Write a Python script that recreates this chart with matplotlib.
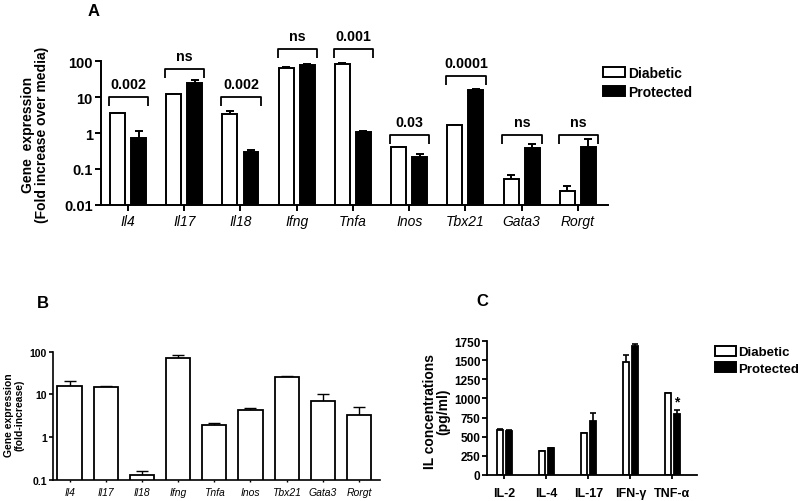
import numpy as np
import matplotlib
matplotlib.use("Agg")
import matplotlib.pyplot as plt
from matplotlib.patches import Patch

plt.rcParams['font.family'] = ['Liberation Sans', 'DejaVu Sans']

# ---------------- data ----------------
genes = ['Il4', 'Il17', 'Il18', 'Ifng', 'Tnfa', 'Inos', 'Tbx21', 'Gata3', 'Rorgt']

a_diabetic = [3.6, 12.2, 3.3, 63, 82, 0.41, 1.67, 0.053, 0.0235]
a_diabetic_err = [0.0, 0.0, 0.8, 7, 5, 0.01, 0.03, 0.014, 0.009]
a_protected = [0.72, 25.5, 0.30, 80, 1.05, 0.21, 16.2, 0.38, 0.41]
a_protected_err = [0.42, 5.5, 0.035, 3, 0.1, 0.05, 0.3, 0.11, 0.28]
a_pvalues = ['0.002', 'ns', '0.002', 'ns', '0.001', '0.03', '0.0001', 'ns', 'ns']
a_bracket_level = [9.9, 62, 9.9, 226, 226, 0.9, 40, 0.9, 0.9]
a_yticks = [0.01, 0.1, 1, 10, 100]
a_yticklabels = ['0.01', '0.1', '1', '10', '100']

b_values = [16, 14.6, 0.131, 72, 1.88, 4.3, 25, 7.0, 3.3]
b_err = [5, 1.1, 0.032, 10, 0.29, 0.4, 1.9, 3.2, 1.8]
b_yticks = [0.1, 1, 10, 100]
b_yticklabels = ['0.1', '1', '10', '100']

cytokines = ['IL-2', 'IL-4', 'IL-17', 'IFN-γ', 'TNF-α']
c_diabetic = [585, 315, 545, 1475, 1075]
c_diabetic_err = [10, 0, 0, 100, 0]
c_protected = [575, 355, 710, 1685, 800]
c_protected_err = [15, 0, 100, 35, 50]
c_yticks = [0, 250, 500, 750, 1000, 1250, 1500, 1750]

series_names = ['Diabetic', 'Protected']


def up_errorbar(ax, x, y, err, capsize, lw):
    eb = ax.errorbar(x, y, yerr=[np.zeros(len(err)), err], fmt='none',
                     ecolor='black', elinewidth=lw, capsize=capsize,
                     capthick=lw, zorder=1)
    eb[1][0].set_visible(False)
    return eb


def style_axes(ax, lw):
    for s in ['top', 'right']:
        ax.spines[s].set_visible(False)
    for s in ['left', 'bottom']:
        ax.spines[s].set_linewidth(lw)


fig = plt.figure(figsize=(8, 5.02), dpi=100)

# ---------------- Panel A ----------------
axA = fig.add_axes([0.12625, 0.5902, 0.634, 0.2857])
x = np.arange(len(genes))
off, w = 0.187, 0.265
axA.bar(x - off, a_diabetic, w, color='white', edgecolor='black', linewidth=1.4, zorder=2)
axA.bar(x + off, a_protected, w, color='black', edgecolor='black', linewidth=1.4, zorder=2)
up_errorbar(axA, x - off, a_diabetic, a_diabetic_err, 3, 1.4)
up_errorbar(axA, x + off, a_protected, a_protected_err, 3, 1.4)
axA.set_yscale('log')
axA.set_ylim(0.01, 100)
axA.set_xlim(-0.48, 8.54)
axA.set_yticks(a_yticks)
axA.set_yticklabels(a_yticklabels)
axA.minorticks_off()
axA.set_xticks(x)
axA.set_xticklabels(genes, fontsize=10, fontstyle='italic')
for t in axA.get_yticklabels():
    t.set_fontweight('bold')
    t.set_fontsize(10.5)
axA.tick_params(axis='y', length=4, width=1.4, pad=2)
axA.tick_params(axis='x', length=4, width=1.4, pad=3)
style_axes(axA, 1.4)

leg_factor = 10 ** (-9 / 35.8)
for i, (lvl, p) in enumerate(zip(a_bracket_level, a_pvalues)):
    x0, x1 = i - 0.34, i + 0.36
    axA.plot([x0, x0, x1, x1], [lvl * leg_factor, lvl, lvl, lvl * leg_factor],
             color='black', lw=1.3, clip_on=False, solid_capstyle='butt')
    axA.annotate(p, xy=(i + 0.01, lvl), xytext=(0, 9), textcoords='offset pixels',
                 ha='center', va='baseline', fontsize=10.3, fontweight='bold',
                 annotation_clip=False)

fig.text(0.044, 1 - 134.5 / 502, 'Gene  expression\n(Fold increase over media)',
         rotation=90, ha='center', va='center', fontsize=10, fontweight='bold',
         linespacing=1.0, multialignment='center')
fig.text(94 / 800, 1 - 11 / 502, 'A', ha='center', va='center', fontsize=12, fontweight='bold')

handles = [Patch(facecolor='white', edgecolor='black', linewidth=1.4),
           Patch(facecolor='black', edgecolor='black', linewidth=1.4)]
fig.legend(handles, series_names, loc='upper left', bbox_to_anchor=(603 / 800, 1 - 67 / 502),
           frameon=False, borderpad=0, borderaxespad=0, handlelength=1.6,
           handleheight=0.8, labelspacing=0.35, handletextpad=0.2,
           prop={'size': 10, 'weight': 'bold'})

# ---------------- Panel B ----------------
axB = fig.add_axes([0.0666, 0.0418, 0.408, 0.256])
xb = np.arange(len(genes))
axB.bar(xb, b_values, 0.67, color='white', edgecolor='black', linewidth=1.3, zorder=2)
up_errorbar(axB, xb, b_values, b_err, 4.5, 1.0)
axB.set_yscale('log')
axB.set_ylim(0.1, 100)
axB.set_xlim(-0.45, 8.57)
axB.set_yticks(b_yticks)
axB.set_yticklabels(b_yticklabels)
axB.minorticks_off()
axB.set_xticks(xb)
axB.set_xticklabels(genes, fontsize=7.5, fontstyle='italic')
for t in axB.get_yticklabels():
    t.set_fontweight('bold')
    t.set_fontsize(7.5)
axB.tick_params(axis='y', length=3, width=1.2, pad=1.5)
axB.tick_params(axis='x', length=1.5, width=1.0, pad=3.5)
style_axes(axB, 1.2)
fig.text(14.5 / 800, 1 - 415 / 502, 'Gene expression\n(fold-increase)',
         rotation=90, ha='center', va='center', fontsize=7.5, fontweight='bold',
         linespacing=1.05, multialignment='center')
fig.text(43 / 800, 1 - 304 / 502, 'B', ha='center', va='center', fontsize=12, fontweight='bold')

# ---------------- Panel C ----------------
axC = fig.add_axes([0.609, 0.0524, 0.262, 0.2657])
xc = np.arange(len(cytokines))
offc, wc = 0.107, 0.16
axC.bar(xc - offc, c_diabetic, wc, color='white', edgecolor='black', linewidth=1.3, zorder=2)
axC.bar(xc + offc, c_protected, wc, color='black', edgecolor='black', linewidth=1.3, zorder=2)
up_errorbar(axC, xc - offc, c_diabetic, c_diabetic_err, 2, 1.2)
up_errorbar(axC, xc + offc, c_protected, c_protected_err, 2, 1.2)
axC.set_ylim(0, 1750)
axC.set_xlim(-0.41, 4.58)
axC.set_yticks(c_yticks)
axC.set_xticks(xc)
axC.set_xticklabels(cytokines, fontsize=9, fontweight='bold')
for t in axC.get_yticklabels():
    t.set_fontweight('bold')
    t.set_fontsize(8.5)
axC.tick_params(axis='y', length=3.5, width=1.3, pad=1.5)
axC.tick_params(axis='x', length=3, width=1.3, pad=6)
style_axes(axC, 1.3)
axC.annotate('*', xy=(4 + offc, c_protected[4] + c_protected_err[4]), xytext=(0, 1),
             textcoords='offset pixels', ha='center', va='bottom', fontsize=10,
             fontweight='bold')
fig.text(436.5 / 800, 1 - 411.7 / 502, 'IL concentrations\n(pg/ml)',
         rotation=90, ha='center', va='center', fontsize=10, fontweight='bold',
         linespacing=0.95, multialignment='center')
fig.text(482 / 800, 1 - 301 / 502, 'C', ha='center', va='center', fontsize=12, fontweight='bold')
fig.legend(handles, series_names, loc='upper left', bbox_to_anchor=(715 / 800, 1 - 347 / 502),
           frameon=False, borderpad=0, borderaxespad=0, handlelength=1.6,
           handleheight=0.75, labelspacing=0.3, handletextpad=0.15,
           prop={'size': 9.5, 'weight': 'bold'})

fig.savefig('out.png', dpi=100)
